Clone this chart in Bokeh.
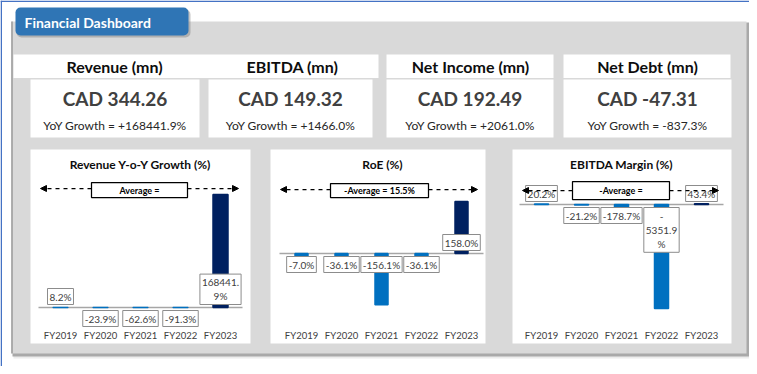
from bokeh.plotting import figure
from bokeh.models import Range1d, Arrow, NormalHead
from bokeh.core.properties import value
from bokeh.embed import file_html
from bokeh.resources import INLINE

# ---------------- data ----------------
years = ["FY2019", "FY2020", "FY2021", "FY2022", "FY2023"]

kpi_titles = ["Revenue (mn)", "EBITDA (mn)", "Net Income (mn)", "Net Debt (mn)"]
kpi_values = [344.26, 149.32, 192.49, -47.31]
kpi_growth = [168441.9, 1466.0, 2061.0, -837.3]

rev_growth = [8.2, -23.9, -62.6, -91.3, 168441.9]
roe_labels = [-7.0, -36.1, -156.1, -36.1, 158.0]
roe_bars = [-7.0, -7.0, -156.1, -7.0, 158.0]      # bar heights as drawn in the reference
roe_average = 15.5
ebitda_margin = [20.2, -21.2, -178.7, -5351.9, 43.4]

chart_titles = ["Revenue Y-o-Y Growth (%)", "RoE (%)", "EBITDA Margin (%)"]
average_texts = ["Average =", "-Average = %.1f%%" % roe_average, "-Average ="]

# ---------------- style / layout ----------------
FONT = value("Lato")
W, H = 749, 366
X0, Y0 = 0, 0
DX = 40.0
NAVY, BLUE = "#002060", "#0070c0"

p = figure(width=W, height=H, x_range=Range1d(X0, X0 + W), y_range=Range1d(Y0 + H, Y0),
           output_backend="svg", toolbar_location=None, min_border=0,
           x_axis_location=None, y_axis_location=None)
p.title = None
p.grid.visible = False
p.outline_line_color = None
p.background_fill_color = "white"
p.border_fill_color = "white"

# outer blue frame (left / top edges)
p.segment(x0=[0.75, 0], x1=[0.75, W], y0=[0, 0.75], y1=[H, 0.75], line_color="#4472c4", line_width=1.5)

# panel with shadow
PL, PR, PT, PB = 11, 746, 21, 353
p.quad(left=[PL + 2], right=[PR + 6], top=[PT + 2], bottom=[PB + 5], fill_color="#ececec", line_color=None)
p.quad(left=[PL + 1], right=[PR + 3], top=[PT + 1], bottom=[PB + 3], fill_color="#a9a9a9", line_color=None)
p.quad(left=[PL], right=[PR], top=[PT], bottom=[PB], fill_color="#d9d9d9", line_color=None)
p.segment(x0=[PL + 0.5], x1=[PL + 0.5], y0=[PT], y1=[PB], line_color="#9a9a9a", line_width=1.5)

# title tab
p.quad(left=[16], right=[190], top=[9], bottom=[37], fill_color="#7f7f7f", fill_alpha=0.45,
       line_color=None, border_radius=5)
p.quad(left=[15], right=[188], top=[7], bottom=[35], fill_color="#2f75b5", line_color=None, border_radius=5)
p.text(x=[24], y=[21.5], text=["Financial Dashboard"], text_font=FONT, text_font_size="14px",
       text_font_style="bold", text_color="white", text_align="left", text_baseline="middle")

# KPI headers and cards
p.quad(left=[13, 386, 563], right=[378, 553, 730], top=[54, 54, 54], bottom=[77.5, 77.5, 77.5],
       fill_color="white", line_color=None)
card_l = [30, 208, 386, 563]
card_r = [199, 372, 553, 731]
p.quad(left=card_l, right=card_r, top=[79] * 4, bottom=[137] * 4, fill_color="white", line_color=None)
card_c = [(a + b) / 2 for a, b in zip(card_l, card_r)]
head_c = [114, 292, 470, 647]
p.text(x=head_c, y=[66] * 4, text=kpi_titles, text_font=FONT, text_font_size="16px",
       text_font_style="bold", text_color="#0d0d0d", text_align="center", text_baseline="middle")
p.text(x=card_c, y=[98] * 4, text=["CAD %.2f" % v for v in kpi_values], text_font=FONT,
       text_font_size="19px", text_font_style="bold", text_color="#404040",
       text_align="center", text_baseline="middle")
p.text(x=card_c, y=[125] * 4, text=["YoY Growth = %+.1f%%" % g for g in kpi_growth], text_font=FONT,
       text_font_size="12px", text_color="#262626", text_align="center", text_baseline="middle")


def excel_wrap(s):
    if len(s) <= 7:
        return s
    if s.startswith("-"):
        rest = s[1:]
        return "-\n" + rest[:-1] + "\n" + rest[-1]
    i = s.index(".") + 1
    return s[:i] + "\n" + s[i:]


charts = [
    dict(labels=rev_growth, bars=rev_growth, panel=(30, 250), title_x=140, x0=60, zero=307,
         bar_px=113, bw=15, line=(40, 238, 188), box=(91, 187, 182, 197)),
    dict(labels=roe_labels, bars=roe_bars, panel=(270, 485), title_x=382, x0=301, zero=253,
         bar_px=52, bw=13, line=(280, 477, 189), box=(330, 428, 183, 197)),
    dict(labels=ebitda_margin, bars=ebitda_margin, panel=(512, 731), title_x=621, x0=541, zero=204,
         bar_px=104, bw=14, line=(522, 718, 190), box=(572, 669, 181, 199)),
]
CAT_Y = 335

for k, c in enumerate(charts):
    xr, yr = "cx%d" % k, "cy%d" % k
    ppu = c["bar_px"] / max(abs(v) for v in c["bars"])
    p.extra_x_ranges[xr] = Range1d((X0 - c["x0"]) / DX, (X0 + W - c["x0"]) / DX)
    p.extra_y_ranges[yr] = Range1d((c["zero"] - (Y0 + H)) / ppu, (c["zero"] - Y0) / ppu)

    # white chart panel
    p.quad(left=[c["panel"][0]], right=[c["panel"][1]], top=[149], bottom=[343],
           fill_color="white", line_color=None)
    p.text(x=[c["title_x"]], y=[164], text=[chart_titles[k]], text_font=FONT, text_font_size="12px",
           text_font_style="bold", text_color="#0d0d0d", text_align="center", text_baseline="middle")

    n = len(years)
    idx = list(range(n))
    colors = [BLUE] * (n - 1) + [NAVY]
    p.segment(x0=[-0.55], x1=[n - 1 + 0.55], y0=[0], y1=[0], line_color="#a6a6a6", line_width=1.5,
              x_range_name=xr, y_range_name=yr)
    p.vbar(x=idx, top=c["bars"], width=c["bw"] / DX, fill_color=colors, line_color=colors,
           line_width=1.5, x_range_name=xr, y_range_name=yr)

    # category labels
    p.text(x=idx, y=[0] * n, text=years, y_offset=CAT_Y - c["zero"], text_font=FONT,
           text_font_size="9.5px", text_color="#404040", text_align="center", text_baseline="middle",
           x_range_name=xr, y_range_name=yr)

    # data labels (inside base)
    for sign in (1, -1):
        ii = [i for i, v in enumerate(c["labels"]) if (v >= 0) == (sign > 0)]
        if not ii:
            continue
        p.text(x=ii, y=[0] * len(ii), text=[excel_wrap("%.1f%%" % c["labels"][i]) for i in ii],
               y_offset=-3 if sign > 0 else 3, text_font=FONT, text_font_size="10px",
               text_color="#404040", text_align="center",
               text_baseline="bottom" if sign > 0 else "top", text_line_height=1.2,
               background_fill_color="white", border_line_color="#8c8c8c", border_line_width=1,
               padding=2, x_range_name=xr, y_range_name=yr)

    # average arrow and box
    lx0, lx1, ly = c["line"]
    bl, br, bt, bb = c["box"]
    for xs, xe in ((bl, lx0), (br, lx1)):
        p.add_layout(Arrow(x_start=xs, y_start=ly, x_end=xe, y_end=ly, line_color="black",
                           line_width=1.25, line_dash="4 4",
                           end=NormalHead(size=6, fill_color="black", line_color="black", line_width=1)))
    p.quad(left=[bl], right=[br], top=[bt], bottom=[bb], fill_color="white", line_color="black",
           line_width=1.25)
    p.text(x=[(bl + br) / 2], y=[(bt + bb) / 2], text=[average_texts[k]], text_font=FONT,
           text_font_size="9px", text_font_style="bold", text_color="black",
           text_align="center", text_baseline="middle")

open("out.html", "w").write(file_html(p, INLINE))
